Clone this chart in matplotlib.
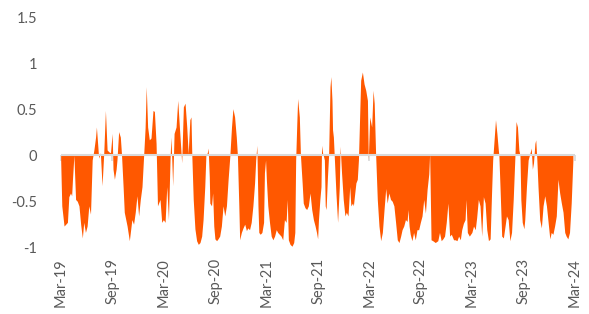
import matplotlib
matplotlib.use("Agg")
import matplotlib.pyplot as plt
import matplotlib.dates as mdates
import pandas as pd

# days since 1 Mar 2019 and the value read at that day
day_offset = [
    0, 4, 12, 18, 24, 29, 35, 39, 42, 47,
    53, 59, 65, 71, 77, 82, 88, 94, 100, 106,
    112, 118, 124, 127, 132, 135, 141, 147, 153, 159,
    165, 171, 177, 183, 186, 191, 197, 200, 206, 212,
    216, 222, 226, 236, 244, 253, 259, 265, 271, 277,
    283, 289, 294, 300, 304, 309, 315, 321, 328, 333,
    339, 344, 353, 359, 365, 371, 377, 383, 389, 392,
    398, 403, 410, 416, 421, 430, 436, 442, 448, 453,
    459, 463, 466, 471, 477, 483, 489, 495, 501, 506,
    512, 516, 521, 524, 528, 530, 536, 540, 544, 548,
    554, 559, 565, 571, 577, 583, 589, 595, 601, 607,
    612, 618, 624, 628, 633, 636, 642, 648, 654, 660,
    665, 671, 677, 683, 689, 693, 697, 701, 704, 709,
    715, 721, 724, 728, 731, 736, 742, 748, 754, 760,
    766, 771, 777, 783, 789, 795, 801, 805, 809, 815,
    822, 828, 832, 835, 839, 842, 848, 852, 858, 862,
    868, 874, 880, 886, 892, 898, 904, 909, 913, 916,
    921, 925, 927, 931, 934, 937, 940, 943, 948, 952,
    957, 960, 964, 966, 969, 972, 978, 984, 990, 993,
    998, 1004, 1010, 1015, 1021, 1027, 1031, 1037, 1040, 1045,
    1049, 1054, 1058, 1063, 1066, 1072, 1078, 1084, 1090, 1093,
    1098, 1105, 1110, 1114, 1119, 1125, 1131, 1137, 1143, 1149,
    1155, 1160, 1166, 1172, 1178, 1184, 1190, 1196, 1202, 1208,
    1213, 1219, 1225, 1231, 1234, 1238, 1242, 1248, 1254, 1260,
    1266, 1272, 1278, 1284, 1290, 1296, 1302, 1308, 1311, 1316,
    1322, 1331, 1340, 1346, 1352, 1358, 1364, 1370, 1376, 1382,
    1388, 1396, 1402, 1408, 1414, 1420, 1425, 1431, 1437, 1440,
    1445, 1452, 1461, 1467, 1473, 1478, 1484, 1490, 1496, 1502,
    1508, 1514, 1520, 1526, 1531, 1535, 1540, 1545, 1550, 1555,
    1557, 1561, 1567, 1573, 1579, 1584, 1590, 1596, 1602, 1608,
    1614, 1618, 1623, 1628, 1632, 1635, 1640, 1646, 1649, 1655,
    1661, 1667, 1672, 1676, 1680, 1685, 1688, 1692, 1696, 1702,
    1708, 1714, 1720, 1726, 1732, 1738, 1743, 1749, 1755, 1761,
    1767, 1773, 1779, 1785, 1791, 1796, 1802, 1808, 1814, 1820,
]
values = [
    -0.05, -0.55, -0.77, -0.75, -0.73, -0.45, -0.41, -0.44, -0.26, 0.0,
    -0.48, -0.50, -0.55, -0.75, -0.90, -0.73, -0.84, -0.77, -0.55, -0.64,
    -0.05, 0.06, 0.20, 0.31, 0.10, -0.03, 0.03, -0.33, 0.02, 0.49,
    0.06, 0.04, 0.03, 0.24, -0.15, -0.26, -0.15, -0.05, 0.26, 0.20,
    0.02, -0.35, -0.62, -0.77, -0.93, -0.70, -0.75, -0.62, -0.44, -0.66,
    -0.48, -0.34, -0.05, 0.30, 0.75, 0.31, 0.17, 0.19, 0.49, 0.48,
    0.13, -0.55, -0.48, -0.73, -0.70, -0.73, -0.34, -0.70, 0.0, 0.20,
    -0.33, 0.24, 0.31, 0.60, 0.35, -0.08, 0.53, 0.57, 0.31, 0.02,
    0.39, 0.42, 0.0, -0.48, -0.80, -0.93, -0.97, -0.95, -0.88, -0.70,
    -0.34, 0.0, 0.03, 0.08, -0.23, -0.52, -0.55, -0.41, -0.77, -0.91,
    -0.93, -0.91, -0.88, -0.77, -0.55, -0.66, -0.55, -0.26, -0.01, 0.31,
    0.51, 0.42, 0.20, 0.0, -0.55, -0.92, -0.84, -0.79, -0.75, -0.82,
    -0.79, -0.81, -0.73, -0.55, -0.30, -0.05, 0.11, -0.55, -0.84, -0.86,
    -0.84, -0.73, -0.19, -0.05, -0.27, -0.55, -0.73, -0.88, -0.92, -0.88,
    -0.81, -0.84, -0.86, -0.88, -0.92, -0.70, -0.73, -0.48, -0.92, -0.97,
    -0.99, -0.95, -0.84, -0.05, 0.35, 0.62, 0.42, 0.0, -0.30, -0.52,
    -0.57, -0.59, -0.55, -0.41, -0.59, -0.70, -0.77, -0.84, -0.91, -0.70,
    -0.48, -0.34, 0.11, 0.02, -0.01, -0.05, -0.55, -0.59, -0.23, 0.0,
    0.75, 0.86, 0.60, 0.28, 0.20, 0.0, -0.41, -0.73, -0.34, 0.10,
    -0.19, -0.48, -0.66, -0.62, -0.66, -0.34, -0.55, -0.52, -0.55, -0.41,
    -0.30, -0.26, -0.05, 0.50, 0.82, 0.91, 0.78, 0.71, 0.60, -0.05,
    0.42, 0.31, 0.71, 0.57, 0.02, -0.48, -0.77, -0.93, -0.84, -0.59,
    -0.36, -0.52, -0.41, -0.48, -0.50, -0.55, -0.73, -0.92, -0.95, -0.88,
    -0.81, -0.77, -0.70, -0.72, -0.59, -0.77, -0.86, -0.93, -0.84, -0.92,
    -0.81, -0.81, -0.73, -0.66, -0.48, -0.63, -0.37, -0.20, 0.02, -0.92,
    -0.93, -0.95, -0.93, -0.84, -0.93, -0.91, -0.88, -0.73, -0.52, -0.88,
    -0.86, -0.92, -0.92, -0.93, -0.88, -0.92, -0.81, -0.74, -0.70, -0.48,
    -0.84, -0.88, -0.84, -0.77, -0.81, -0.68, -0.48, -0.55, -0.88, -0.45,
    -0.52, -0.81, -0.93, -0.91, -0.41, -0.05, 0.17, 0.39, 0.24, 0.06,
    0.0, -0.34, -0.88, -0.90, -0.77, -0.66, -0.70, -0.93, -0.84, -0.48,
    -0.01, 0.37, 0.31, 0.06, 0.0, -0.48, -0.73, -0.80, -0.70, -0.34,
    -0.05, 0.02, 0.08, -0.15, -0.08, 0.13, 0.17, -0.05, -0.34, -0.70,
    -0.79, -0.55, -0.44, -0.55, -0.73, -0.91, -0.84, -0.86, -0.77, -0.66,
    -0.26, -0.41, -0.52, -0.62, -0.84, -0.88, -0.91, -0.84, -0.52, -0.05,
]

start_date = pd.Timestamp("2019-03-01")
end_date = pd.Timestamp("2024-03-01")
y_ticks = [-1, -0.5, 0, 0.5, 1, 1.5]
y_tick_labels = ["-1", "-0.5", "0", "0.5", "1", "1.5"]

orange = "#FF5800"
grid_grey = "#D9D9D9"
text_grey = "#595959"

plt.rcParams["font.family"] = ["Lato", "DejaVu Sans"]

dates = start_date + pd.to_timedelta(day_offset, unit="D")
x_ticks = pd.date_range(start_date, end_date, freq="6MS")

fig = plt.figure(figsize=(5.89, 3.14), dpi=100)
ax = fig.add_axes([0.103, 0.213, 0.873, 0.730])

ax.fill_between(dates, values, 0, color=orange, linewidth=0, zorder=2)
ax.axhline(0, color=grid_grey, linewidth=1.5, zorder=3)

ax.set_xlim(start_date, end_date)
ax.set_ylim(-1, 1.5)

ax.set_yticks(y_ticks)
ax.set_yticklabels(y_tick_labels)
ax.tick_params(axis="y", length=0, pad=17, labelsize=10.5, labelcolor=text_grey)

ax.set_xticks(x_ticks)
ax.set_xticklabels([d.strftime("%b-%y") for d in x_ticks], rotation=90)
ax.tick_params(axis="x", length=0, pad=8, labelsize=10.5, labelcolor=text_grey)

for side in ["top", "right", "left", "bottom"]:
    ax.spines[side].set_visible(False)

# small tick marks hanging off the zero line
zero_axis = ax.secondary_xaxis(0.4)
zero_axis.set_xticks(mdates.date2num(x_ticks))
zero_axis.tick_params(axis="x", length=4, width=1.2, color=grid_grey, labelbottom=False)
zero_axis.spines["bottom"].set_visible(False)

fig.savefig("out.png", dpi=100)
